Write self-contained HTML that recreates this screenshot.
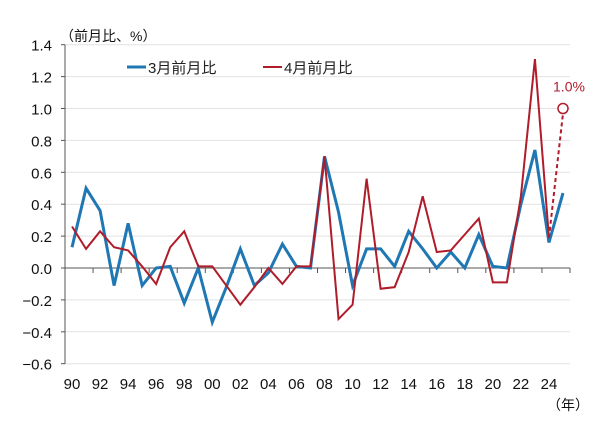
<!DOCTYPE html>
<html><head><meta charset="utf-8"><style>
body{margin:0;background:#fff;width:600px;height:421px;overflow:hidden}
svg{font-family:"Liberation Sans","Noto Sans CJK JP",sans-serif}
</style></head><body>
<svg id="c" width="600" height="421"></svg>
<script>
const years=["90","91","92","93","94","95","96","97","98","99","00","01","02","03","04","05","06","07","08","09","10","11","12","13","14","15","16","17","18","19","20","21","22","23","24","25"];
const tickLabels=["90","92","94","96","98","00","02","04","06","08","10","12","14","16","18","20","22","24"];
const yTicks=[-0.6,-0.4,-0.2,0,0.2,0.4,0.6,0.8,1.0,1.2,1.4];
const march=[0.13,0.5,0.36,-0.11,0.28,-0.11,0.0,0.01,-0.22,0.0,-0.34,-0.12,0.12,-0.11,-0.03,0.15,0.01,0.0,0.7,0.35,-0.11,0.12,0.12,0.01,0.23,0.12,0.0,0.1,0.0,0.21,0.01,0.0,0.4,0.74,0.16,0.47];
const april=[0.26,0.12,0.23,0.13,0.11,0.01,-0.1,0.13,0.23,0.01,0.01,-0.11,-0.23,-0.12,0.0,-0.1,0.01,0.01,0.7,-0.32,-0.23,0.56,-0.13,-0.12,0.1,0.45,0.1,0.11,0.21,0.31,-0.09,-0.09,0.45,1.31,0.19];
const aprilForecast=1.0;
const NS="http://www.w3.org/2000/svg",svg=document.getElementById('c');
const L=65,R=570,band=(R-L)/years.length;
const x=i=>L+band*(i+0.5);
const y=v=>268-v*159.5;
function mk(t,a,txt){const e=document.createElementNS(NS,t);for(const k in a)e.setAttribute(k,a[k]);if(txt!=null)e.textContent=txt;svg.appendChild(e);return e;}
yTicks.forEach(v=>{
 if(v!==0){const g=mk('line',{x1:L,x2:R,y1:y(v),y2:y(v),stroke:'#e2e2e2','stroke-width':1});
 
 }
 const t=mk('text',{x:L-13,y:y(v)+6,'text-anchor':'end','font-size':15,fill:'#111'},v.toFixed(1).replace('-','−'));
 
 
 mk('line',{x1:L-4,x2:L,y1:y(v),y2:y(v),stroke:'#555'});
});
const ax=mk('line',{x1:L,x2:L,y1:y(1.4),y2:y(-0.6),stroke:'#555'});


const xa=mk('line',{x1:L,x2:R,y1:y(0),y2:y(0),stroke:'#555'});


for(let i=0;i<=years.length;i+=2){mk('line',{x1:L+band*i,x2:L+band*i,y1:y(0),y2:y(0)+5,stroke:'#555'});}
tickLabels.forEach(lb=>{const i=years.indexOf(lb);
 const t=mk('text',{x:x(i),y:389,'text-anchor':'middle','font-size':15,fill:'#111'},lb);
 
 });
function poly(d,c,w,name){const p=mk('polyline',{points:d.map((v,i)=>x(i)+','+y(v)).join(' '),fill:'none',stroke:c,'stroke-width':w,'stroke-linejoin':'miter'});
 
 }
poly(march,'#1f77b4',3,'march-series');
poly(april,'#b01c2a',2,'april-series');
const n=april.length;
const dl=mk('line',{x1:x(n-1),y1:y(april[n-1]),x2:x(n),y2:y(aprilForecast)+5,stroke:'#b01c2a','stroke-width':2,'stroke-dasharray':'4,3'});


const ci=mk('circle',{cx:x(n),cy:y(aprilForecast),r:5,fill:'#fff',stroke:'#b01c2a','stroke-width':1.5});


const fl=mk('text',{x:x(n)+6,y:y(aprilForecast)-17,'text-anchor':'middle','font-size':14,fill:'#b01c2a'},aprilForecast.toFixed(1)+'%');


</script>
<svg style="position:absolute;left:0;top:0" width="600" height="421" font-family="Liberation Sans, Noto Sans CJK JP, sans-serif">
<text x="60" y="41" font-size="14" fill="#111">（前月比、%）</text>
<g>
<line x1="127" x2="146" y1="67" y2="67" stroke="#1f77b4" stroke-width="3"/>
<text x="148" y="73" font-size="15" fill="#222">3月前月比</text>
<line x1="263" x2="282" y1="67" y2="67" stroke="#b01c2a" stroke-width="2"/>
<text x="284" y="73" font-size="15" fill="#222">4月前月比</text>
</g>
<text x="547" y="410" font-size="14" fill="#111">（年）</text>
</svg>
</body></html>
